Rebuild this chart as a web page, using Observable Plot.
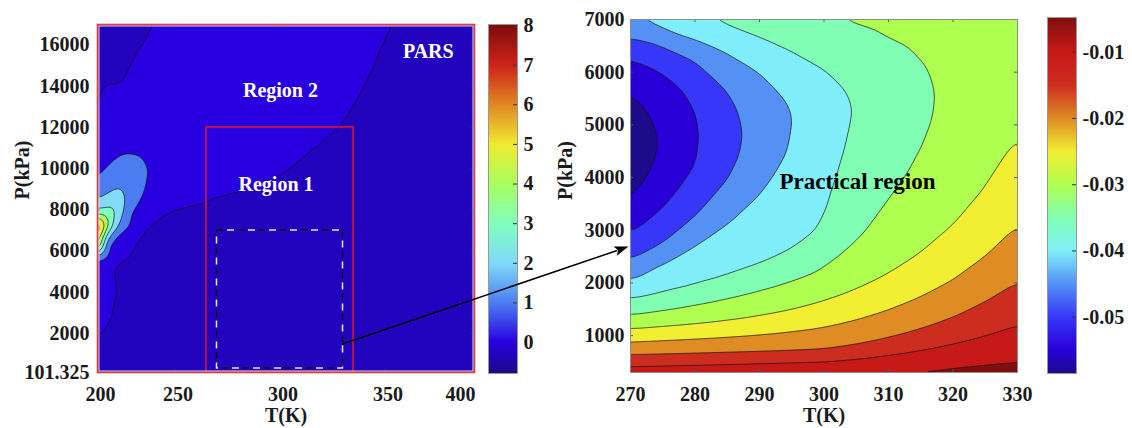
<!DOCTYPE html>
<html><head><meta charset="utf-8">
<script src="https://cdn.jsdelivr.net/npm/d3@7"></script>
<script src="https://cdn.jsdelivr.net/npm/@observablehq/plot@0.6"></script>
<style>
body{margin:0;background:#fff;}
#wrap{position:relative;width:1132px;height:428px;overflow:hidden;background:#fff;}
#wrap svg{position:absolute;top:0;}
</style></head><body><div id="wrap"></div>
<script>
const FONT = "'Liberation Serif','Times New Roman',serif";

// ================= Left panel (PARS) =================
// The source axis puts "200" and "400" on the frame edges although 250/300/350 are evenly spaced.
const leftXDomain = [213.1, 392.6];
const leftXTickPos = [213.1, 250, 300, 350, 392.6];
const leftXTickLabels = ["200", "250", "300", "350", "400"];
const leftYTicks = [101.325, 2000, 4000, 6000, 8000, 10000, 12000, 14000, 16000];
const leftYDomain = [101.325, 17000];
const leftLevels = [-0.3, 0, 1, 2, 3, 4, 5, 6, 7];
const leftBarTicks = [0, 1, 2, 3, 4, 5, 6, 7, 8];
const leftStops = [-0.78, 0, 1, 2, 3, 4, 5, 6, 7, 8.025];
const leftColors = ["#1c0a87", "#2800e0", "#4b7df0", "#80daf8", "#80ffbe", "#a8ff5f", "#f0eb32", "#e18723", "#cd2319", "#7d0c0c"];

// zero-level boundary lines [T, P]
const leftZeroA = [[213.2,12038],[225.6,14068],[233.5,15689],[240.5,17000]];
const leftZeroB = [[353.1,17000],[343.8,14959],[337,13499],[327.8,12038],[315,10905],[303.1,9931],[286.1,9119],[265.5,8554],[246.9,8068],[235,7172],[223.1,5712],[218.8,5226],[219.8,4578],[220.5,3931],[217.9,2632],[213.1,1819]];
// interior samples [T, P, value]
const leftDark = [[213.1,17000,-0.15],[222.7,17000,-0.06],[213.1,14500,-0.06],[392.6,101.325,-0.18],[392.6,17000,-0.1],[368.7,17000,-0.06],[300,101.325,-0.16],[213.1,101.325,-0.1],[213.1,1000,-0.05],[235.2,3000,-0.1],[250,6000,-0.1],[300,8000,-0.12],[350,11000,-0.12],[375.6,14500,-0.1],[300,4000,-0.15],[350,5000,-0.15],[392.6,8000,-0.15],[250,101.325,-0.13],[350,101.325,-0.17],[229.3,4500,-0.06],[242.6,7000,-0.06],[280,8000,-0.06],[320,10500,-0.06],[345,13000,-0.06],[358.5,16000,-0.06],[226.4,5500,-0.05]];
const leftBright = [[213.1,3000,0.2],[215.3,4200,0.35],[213.1,4600,0.45],[213.1,11000,0.35],[224.2,12700,0.2],[236.7,12300,0.4],[260,10500,0.35],[280,11500,0.4],[300,13500,0.4],[320,15500,0.3],[300,17000,0.2],[260,17000,0.15],[340,17000,0.1],[246.3,9200,0.45],[244,8450,0.3]];
// closed peak contours, levels 1..7 [T, P]
const leftPeakLevels = [
  [[213.1,9528],[219.4,10257],[224.1,10661],[228.8,10773],[233.6,10578],[236.8,9849],[235.2,8958],[228.8,7824],[220.9,6685],[216.9,6100],[213.1,5552]],
  [[213.1,8471],[224.1,9153],[226.4,8471],[222.5,7172],[216.1,6038],[213.1,5712]],
  [[213.1,7985],[220.2,8228],[221.8,7824],[216.9,6763],[213.1,5878]],
  [[213.1,7824],[217.8,7658],[215,6763],[213.1,5965]],
  [[213.1,7669],[216.2,7498],[214.3,6622],[213.1,6087]],
  [[213.1,7498],[215.2,7328],[213.8,6525],[213.1,6209]],
  [[213.1,7304],[214.5,7109],[213.1,6355]]
];
const leftPeak = [213.1, 6866, 8.0];
const region1 = {T1: 265, T2: 335, P1: 101.325, P2: 12000};
const practicalBox = {T1: 270, T2: 330, P1: 300, P2: 7000};
const leftNotes = [
  {T: 370.6, P: 15708, text: "PARS"},
  {T: 300.2, P: 13776, text: "Region 2"},
  {T: 298.1, P: 9250, text: "Region 1"}
];

// ================= Right panel (practical region) =================
const rightXTicks = [270, 280, 290, 300, 310, 320, 330];
const rightYTicks = [1000, 2000, 3000, 4000, 5000, 6000, 7000];
const rightXDomain = [270, 330];
const rightYDomain = [300, 7000];
const rightLevels = [-0.0585, -0.055, -0.05, -0.045, -0.04, -0.035, -0.03, -0.025, -0.02, -0.015, -0.01, -0.005];
const rightStops = [-0.0585, -0.055, -0.05, -0.045, -0.04, -0.035, -0.03, -0.025, -0.02, -0.015, -0.01, -0.005, -0.00476];
const rightColors = ["#1c0c8c", "#2800d7", "#3737fa", "#5591f5", "#80eefa", "#80ffb4", "#afff50", "#f2ee32", "#de8c23", "#cd2d1e", "#c81919", "#820f0f", "#7d0c0c"];
const rightBarTicks = [-0.05, -0.04, -0.03, -0.02, -0.01];
// points [T, P]
const rightCurve055 = [[270,3533],[272,3830],[274,4310],[274.5,4700],[274,5000],[272,5408],[270,5650]];
const rightCurve050 = [[270,2934],[275,3430],[278,3880],[280,4250],[280.6,4770],[280,5250],[278,5678],[274.4,6026],[270,6250]];
const rightCurve045 = [[270,2427],[275,2740],[280,3250],[285,3950],[286.8,4400],[287.4,4830],[286.5,5300],[284.7,5678],[279.6,6247],[274.3,6532],[270,6658]];
const rightCurve040 = [[270,2047],[275,2380],[280,2730],[285,3150],[290,3720],[292,4050],[294.2,4500],[295.1,5083],[294.5,5400],[293,5615],[289.9,5994],[284.7,6374],[277,6721],[270,7000]];
const rightCurve035 = [[270,1700],[275,1820],[280,1960],[285,2130],[290,2340],[295,2620],[298.7,2950],[300.5,3400],[301.6,3900],[303,4500],[304.4,5273],[303.3,5678],[300.2,6026],[295.1,6374],[289.9,6658],[280.3,7000]];
const rightCurve030 = [[270,1383],[275,1470],[280,1575],[285,1700],[290,1850],[295,2030],[298.7,2200],[302,2500],[306.4,2996],[310,3600],[313,4100],[315,4520],[316.5,5000],[316.9,5450],[316.8,5700],[315.7,6121],[313.1,6500],[308,6816],[300.9,7000]];
const rightCurve025 = [[270,1130],[275,1170],[280,1215],[285,1280],[290,1370],[295,1490],[300,1660],[305,1880],[310,2170],[315,2560],[320,3080],[325,3800],[330,4736]];
const rightCurve020 = [[270,877],[275,905],[280,935],[285,968],[290,1010],[295,1070],[300,1150],[305,1290],[310,1480],[315,1730],[320,2050],[325,2500],[330,3091]];
const rightCurve015 = [[270,624],[275,638],[280,652],[285,668],[290,685],[295,703],[300,730],[305,820],[310,950],[315,1120],[320,1340],[325,1640],[330,2015]];
const rightCurve010 = [[270,435],[275,440],[280,446],[285,452],[290,458],[295,463],[300,472],[305,520],[310,600],[315,700],[320,830],[325,990],[330,1193]];
const rightCurve005 = [[289.5,300],[295,325],[300,345],[305,370],[310,395],[315,425],[320,455],[325,495],[330,543]];
// other readings [T, P, value]: valley floor, top and bottom edges
const rightValley = [[270,4650,-0.0575],[272,4670,-0.0562],[277.5,4740,-0.0525],[284,4800,-0.0475],[291,4950,-0.0425],[300,5180,-0.0373],[310,5400,-0.0326],[320,5650,-0.0294],[325,5800,-0.0289],[330,5950,-0.0286]];
const rightTopEdge = [[275,7000,-0.0377],[285,7000,-0.0339],[290,7000,-0.0326],[295,7000,-0.0314],[305,7000,-0.0294],[310,7000,-0.0289],[315,7000,-0.0285],[320,7000,-0.0282],[325,7000,-0.0279],[330,7000,-0.0278]];
const rightBottomEdge = [[270,300,-0.0065],[275,300,-0.0063],[280,300,-0.006],[285,300,-0.0056],[295,300,-0.0048],[300,300,-0.0046],[310,300,-0.0044],[320,300,-0.0042],[330,300,-0.004]];
const rightNote = {T: 305.2, P: 3916, text: "Practical region"};
const arrowFrom = [330, 1464];   // left panel data
const arrowTo = [270, 2680];     // right panel data

// ---------- tables ----------
const leftSamples = [
  ...leftZeroA.map(([T, P]) => ({T, P, v: 0})),
  ...leftZeroB.map(([T, P]) => ({T, P, v: 0})),
  ...leftDark.map(([T, P, v]) => ({T, P, v})),
  ...leftBright.map(([T, P, v]) => ({T, P, v})),
  ...leftPeakLevels.flatMap((pts, i) => pts.map(([T, P]) => ({T, P, v: i + 1}))),
  {T: leftPeak[0], P: leftPeak[1], v: leftPeak[2]}
];
const rightCurves = [
  [rightCurve055, -0.055], [rightCurve050, -0.05], [rightCurve045, -0.045], [rightCurve040, -0.04],
  [rightCurve035, -0.035], [rightCurve030, -0.03], [rightCurve025, -0.025], [rightCurve020, -0.02],
  [rightCurve015, -0.015], [rightCurve010, -0.01], [rightCurve005, -0.005]
];
const rightSamples = [
  ...rightCurves.flatMap(([pts, v]) => pts.map(([T, P]) => ({T, P, v}))),
  ...[...rightValley, ...rightTopEdge, ...rightBottomEdge].map(([T, P, v]) => ({T, P, v}))
];

const baseStyle = {fontFamily: FONT, fontSize: "20px", fontWeight: "bold", color: "#1a1a1a", background: "transparent", overflow: "visible"};

function inwardTicks(xt, yt, fw, fh, len, color) {
  return [
    Plot.tickX(xt, {x: d => d, insetBottom: fh - len, stroke: color}),
    Plot.tickX(xt, {x: d => d, insetTop: fh - len, stroke: color}),
    Plot.tickY(yt, {y: d => d, insetRight: fw - len, stroke: color}),
    Plot.tickY(yt, {y: d => d, insetLeft: fw - len, stroke: color})
  ];
}
function attempt(variants) {
  for (const f of variants) { try { return f(); } catch (e) { console.error(e); } }
  return null;
}

const wrap = document.getElementById("wrap");

// ---------- left plot ----------
const L = {left: 97, right: 474, top: 24, bottom: 372};
function makeLeft(blur) {
  return Plot.plot({
    width: 480, height: 428,
    marginLeft: L.left, marginRight: 480 - L.right, marginTop: L.top, marginBottom: 428 - L.bottom,
    style: baseStyle,
    x: {domain: leftXDomain, axis: null},
    y: {domain: leftYDomain, axis: null},
    color: {type: "linear", domain: leftStops, range: leftColors, clamp: true},
    marks: [
      Plot.contour(leftSamples, {x: "T", y: "P", fill: "v", interpolate: "barycentric", thresholds: leftLevels, blur,
        stroke: "#111", strokeWidth: 0.7, clip: true}),
      Plot.rect([region1], {x1: "T1", x2: "T2", y1: "P1", y2: "P2", fill: "none", stroke: "#e8161e", strokeWidth: 1.5}),
      Plot.rect([practicalBox], {x1: "T1", x2: "T2", y1: "P1", y2: "P2", fill: "none", stroke: "#111", strokeWidth: 1.5, strokeDasharray: "7,14"}),
      Plot.rect([practicalBox], {x1: "T1", x2: "T2", y1: "P1", y2: "P2", fill: "none", stroke: "#e4e4f8", strokeWidth: 1.5, strokeDasharray: "7,14", strokeDashoffset: 10.5}),
      ...inwardTicks(leftXTickPos.slice(1, -1), leftYTicks.slice(1), L.right - L.left, L.bottom - L.top, 3, "#333"),
      Plot.frame({stroke: "#dcd8f0", strokeWidth: 1.2, inset: 1.4}),
      Plot.frame({stroke: "#e23b3b", strokeWidth: 1.6}),
      Plot.text(leftNotes, {x: "T", y: "P", text: "text", fill: "white", fontSize: 20}),
      Plot.text(leftXTickPos.slice(0, -1), {x: d => d, frameAnchor: "bottom", lineAnchor: "middle", dy: 22, dx: 3, text: (d, i) => leftXTickLabels[i]}),
      Plot.text(leftXTickPos.slice(-1), {x: d => d, frameAnchor: "bottom", lineAnchor: "middle", dy: 22, dx: 1, textAnchor: "end", text: () => leftXTickLabels[leftXTickLabels.length - 1]}),
      Plot.text(leftYTicks, {y: d => d, frameAnchor: "left", lineAnchor: "middle", dx: -8, textAnchor: "end", text: d => String(d)}),
      Plot.text(["T(K)"], {frameAnchor: "bottom", lineAnchor: "middle", dy: 43, text: d => d}),
      Plot.text(["P(kPa)"], {frameAnchor: "left", lineAnchor: "middle", dx: -74.5, dy: 1, rotate: -90, text: d => d})
    ]
  });
}
const leftPlot = attempt([() => makeLeft(1.5), () => makeLeft(0)]);
leftPlot.style.left = "0px";
wrap.appendChild(leftPlot);

// ---------- colour bars ----------
function makeBar(stops, colors, ticks, fmt, o) {
  const lo = stops[0], hi = stops[stops.length - 1];
  return Plot.plot({
    width: o.width, height: 428, marginLeft: o.ml, marginRight: o.mr, marginTop: o.mt, marginBottom: o.mb,
    style: baseStyle,
    x: {domain: [0, 1], axis: null},
    y: {domain: [lo, hi], axis: null},
    color: {type: "linear", domain: stops, range: colors, clamp: true},
    marks: [
      Plot.raster({fill: (x, y) => y, x1: 0, x2: 1, y1: lo, y2: hi}),
      Plot.tickY(ticks, {y: d => d, insetLeft: 25, stroke: "#333"}),
      Plot.frame({stroke: "#999"}),
      Plot.text(ticks, {y: d => d, frameAnchor: "right", lineAnchor: "middle", dx: 6, textAnchor: "start", text: fmt})
    ]
  });
}
const leftBar = makeBar(leftStops, leftColors, leftBarTicks, d => String(d), {width: 100, ml: 8, mr: 63, mt: 24, mb: 55});
leftBar.style.left = "480px";
wrap.appendChild(leftBar);

// ---------- right plot ----------
const RX = 560;
const R = {left: 630, right: 1017, top: 19, bottom: 372};
function makeRight(blur) {
  return Plot.plot({
    width: 470, height: 428,
    marginLeft: R.left - RX, marginRight: RX + 470 - R.right, marginTop: R.top, marginBottom: 428 - R.bottom,
    style: baseStyle,
    x: {domain: rightXDomain, axis: null},
    y: {domain: rightYDomain, axis: null},
    color: {type: "linear", domain: rightStops, range: rightColors, clamp: true},
    marks: [
      Plot.contour(rightSamples, {x: "T", y: "P", fill: "v", interpolate: "barycentric", thresholds: rightLevels, blur,
        stroke: "#111", strokeWidth: 0.7, clip: true}),
      ...inwardTicks(rightXTicks.slice(1, -1), rightYTicks.slice(0, -1), R.right - R.left, R.bottom - R.top, 3, "#555"),
      Plot.frame({stroke: "#8c8c8c"}),
      Plot.text([rightNote], {x: "T", y: "P", text: "text", fill: "black", fontSize: 23}),
      Plot.text(rightXTicks, {x: d => d, frameAnchor: "bottom", lineAnchor: "middle", dy: 22, text: d => String(d)}),
      Plot.text(rightYTicks, {y: d => d, frameAnchor: "left", lineAnchor: "middle", dx: -6, textAnchor: "end", text: d => String(d)}),
      Plot.text(["T(K)"], {frameAnchor: "bottom", lineAnchor: "middle", dy: 43, text: d => d}),
      Plot.text(["P(kPa)"], {frameAnchor: "left", lineAnchor: "middle", dx: -65, dy: 4, rotate: -90, text: d => d})
    ]
  });
}
const rightPlot = attempt([() => makeRight(3), () => makeRight(0)]);
rightPlot.style.left = RX + "px";
wrap.appendChild(rightPlot);

const rightBar = makeBar(rightStops, rightColors, rightBarTicks, d => d.toFixed(2), {width: 92, ml: 7, mr: 56, mt: 17, mb: 55});
rightBar.style.left = "1040px";
wrap.appendChild(rightBar);

// ---------- arrow from the practical box to the zoomed panel ----------
const lx = leftPlot.scale("x"), ly = leftPlot.scale("y");
const rx = rightPlot.scale("x"), ry = rightPlot.scale("y");
const ax0 = lx.apply(arrowFrom[0]), ay0 = ly.apply(arrowFrom[1]);
const ax1 = RX + rx.apply(arrowTo[0]) - 1.5, ay1 = ry.apply(arrowTo[1]);
const ang = Math.atan2(ay1 - ay0, ax1 - ax0);
const headL = 14, headW = 5;
const bx = ax1 - headL * Math.cos(ang), by = ay1 - headL * Math.sin(ang);
const ov = d3.select(wrap).append("svg").attr("width", 1132).attr("height", 428)
  .style("left", "0px").style("pointer-events", "none");
ov.append("line").attr("x1", ax0).attr("y1", ay0).attr("x2", bx + 2 * Math.cos(ang)).attr("y2", by + 2 * Math.sin(ang))
  .attr("stroke", "#000").attr("stroke-width", 1.5);
ov.append("path").attr("d", `M${ax1},${ay1}L${bx - headW * Math.sin(ang)},${by + headW * Math.cos(ang)}L${bx + 3 * Math.cos(ang)},${by + 3 * Math.sin(ang)}L${bx + headW * Math.sin(ang)},${by - headW * Math.cos(ang)}Z`)
  .attr("fill", "#000");
</script></body></html>
